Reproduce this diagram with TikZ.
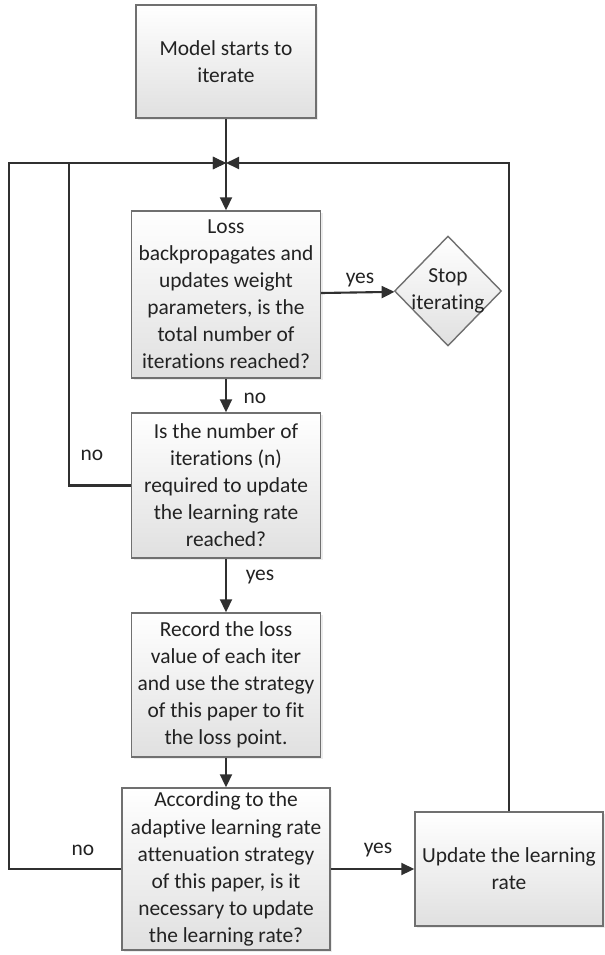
\documentclass[tikz,border=0pt]{standalone}
\usepackage{fontspec}
\setmainfont{Carlito}[Ligatures={NoCommon}]
\usepackage{tikz}
\usetikzlibrary{arrows.meta, shapes.geometric, shadows}
\definecolor{fLine}{HTML}{303030}
\definecolor{fEdge}{HTML}{707070}
\definecolor{fFill}{HTML}{E0E0E0}
\definecolor{fText}{HTML}{222222}

\begin{document}
\begin{tikzpicture}[
  font=\fontsize{12.2}{15.4}\selectfont, text=fText,
  stepbox/.style={draw=fEdge, line width=0.8pt, top color=white,
                  bottom color=fFill, align=center, inner sep=2pt,
                  drop shadow={opacity=0.15, shadow xshift=1.2pt,
                  shadow yshift=-1.2pt}},
  stopbox/.style={diamond, draw=fEdge, line width=0.8pt, top color=white,
                  bottom color=fFill, inner sep=0pt,
                  minimum width=2.14cm, minimum height=2.2cm},
  flow/.style={draw=fLine, line width=1.2pt,
               -{Triangle[length=7.4pt, width=6.8pt]}},
  plain/.style={draw=fLine, line width=1.2pt},
  tag/.style={inner sep=1pt},
]
  \useasboundingbox (0,0) rectangle (12.08,-19.10);

  % boxes
  \node[stepbox, minimum width=3.6cm, minimum height=2.26cm] (start) at (4.52,-1.23)
    {Model starts to\\iterate};
  \node[stepbox, minimum width=3.78cm, minimum height=3.34cm] (loss) at (4.52,-5.89)
    {Loss\\backpropagates and\\updates weight\\parameters, is the\\total number of\\iterations reached?};
  \node[stopbox] (stop) at (8.96,-5.82) {};
  \node[align=center, inner sep=0pt] (stoptxt) at (stop) {Stop\\iterating};
  \node[stepbox, minimum width=3.78cm, minimum height=2.90cm] (nreach) at (4.52,-9.71)
    {Is the number of\\iterations (n)\\required to update\\the learning rate\\reached?};
  \node[stepbox, minimum width=3.78cm, minimum height=2.88cm] (record) at (4.52,-13.70)
    {Record the loss\\value of each iter\\and use the strategy\\of this paper to fit\\the loss point.};
  \node[stepbox, minimum width=4.16cm, minimum height=3.24cm] (adapt) at (4.52,-17.38)
    {According to the\\adaptive learning rate\\attenuation strategy\\of this paper, is it\\necessary to update\\the learning rate?};
  \node[stepbox, minimum width=3.76cm, minimum height=2.28cm] (update) at (10.18,-17.38)
    {Update the learning\\rate};

  \coordinate (merge) at (4.52,-3.26);

  % connectors
  \draw[plain] (start) -- (merge);
  \draw[flow] (merge) -- (loss);
  \draw[flow] (loss) -- (stop);
  \draw[flow] (loss) -- (nreach);
  \draw[flow] (nreach.west) -| (1.38,-3.26) -- (merge);
  \draw[flow] (nreach) -- (record);
  \draw[flow] (record) -- (adapt);
  \draw[flow] (adapt.west) -| (0.18,-3.26) -- (merge);
  \draw[flow] (adapt.east) -- (update.west);
  \draw[flow] (update.north) |- (merge);

  % labels
  \node[tag] (yes1) at (7.20,-5.60) {yes};
  \node[tag] (no1) at (5.10,-7.96) {no};
  \node[tag] (no2) at (1.84,-9.10) {no};
  \node[tag] (yes2) at (5.20,-11.54) {yes};
  \node[tag] (no3) at (1.66,-17.00) {no};
  \node[tag] (yes3) at (7.56,-17.00) {yes};
\end{tikzpicture}
\end{document}
